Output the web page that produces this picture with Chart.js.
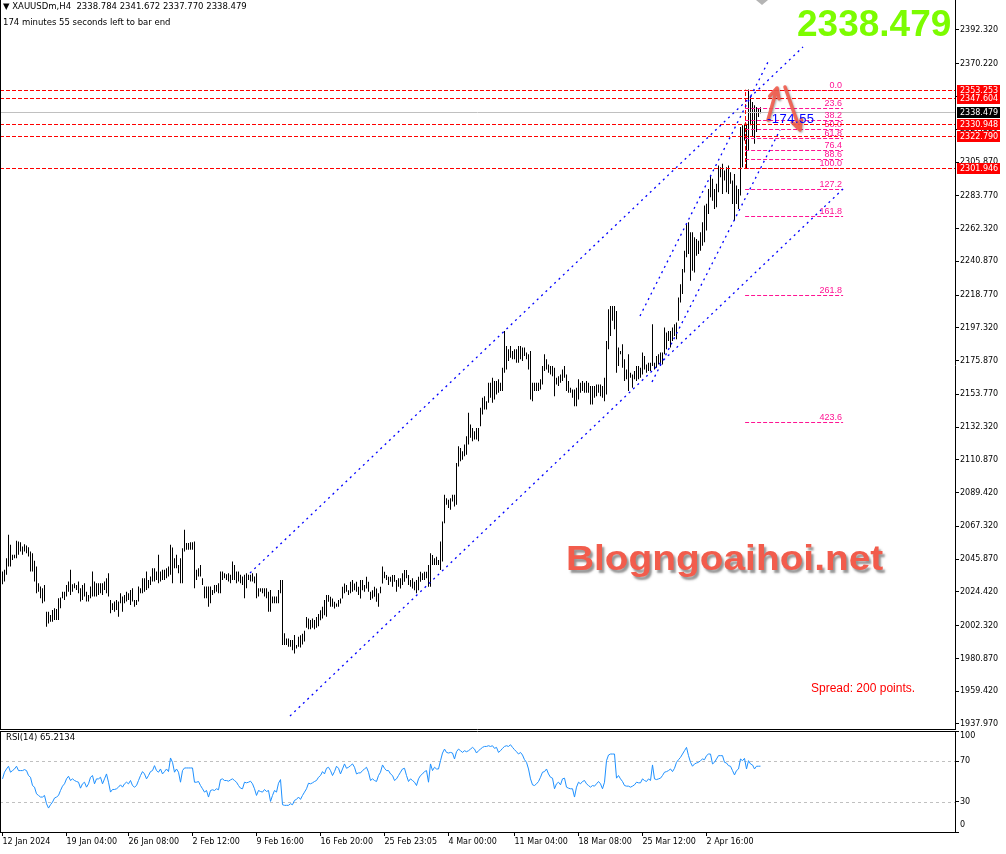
<!DOCTYPE html>
<html><head><meta charset="utf-8">
<script src="https://cdn.jsdelivr.net/npm/chart.js@4.4.1/dist/chart.umd.min.js"></script>
<style>
html,body{margin:0;padding:0;background:#fff;width:1006px;height:854px;overflow:hidden;}
#wrap{position:relative;width:1006px;height:854px;background:#fff;}
canvas{position:absolute;left:0;}
#main{top:0;}
#rsi{top:730px;}
.t{position:absolute;white-space:pre;font-family:"DejaVu Sans",sans-serif;color:#000;}
</style>
</head><body>
<div id="wrap">
<canvas id="main" width="1006" height="730"></canvas>
<canvas id="rsi" width="1006" height="124"></canvas>
<div class="t" style="left:3px;top:1px;font-size:8.5px;line-height:10px;">▼ XAUUSDm,H4  2338.784 2341.672 2337.770 2338.479</div>
<div class="t" style="left:3px;top:17px;font-size:8.5px;line-height:10px;">174 minutes 55 seconds left to bar end</div>
<div class="t" style="left:797px;top:5px;font-family:'Liberation Sans',Arial,sans-serif;font-weight:bold;font-size:37px;line-height:37px;color:#7cfc00;">2338.479</div>
<div class="t" style="left:566px;top:540px;font-family:'Liberation Sans',Arial,sans-serif;font-weight:bold;font-size:35px;line-height:35px;color:#f25c4c;transform:scaleX(1.11);transform-origin:0 0;text-shadow:2px 3px 2px rgba(90,90,90,0.65);">Blogngoaihoi.net</div>
<div class="t" style="left:811px;top:682px;font-family:'Liberation Sans',Arial,sans-serif;font-size:12px;line-height:12px;color:#ff0000;">Spread: 200 points.</div>
<div class="t" style="left:767px;top:112px;font-family:'Liberation Sans',Arial,sans-serif;font-size:13px;line-height:13px;letter-spacing:0.5px;color:#0000ff;">-174.55</div>
<div class="t" style="left:6px;top:732px;font-size:8.5px;line-height:10px;">RSI(14) 65.2134</div>
<div style="position:absolute;left:756px;top:0;width:0;height:0;border-left:6px solid transparent;border-right:6px solid transparent;border-top:5px solid #b4b4b4;"></div>
</div>
<script>
// ---------------- DATA ----------------
const highs = [
2037.8,2038.9,2046.5,2061.8,2055.3,2048.7,2048.7,2057.9,2057.5,2057.0,
2054.2,2055.7,2054.8,2053.7,2050.9,2049.8,2044.8,2041.0,2030.1,2027.9,
2026.8,2029.0,2011.5,2011.5,2009.3,2012.6,2013.7,2013.2,2020.3,2020.7,
2024.6,2024.6,2029.0,2031.2,2038.9,2029.4,2030.1,2029.0,2031.2,2026.8,
2029.0,2030.1,2024.6,2022.4,2027.9,2037.8,2031.2,2030.1,2030.1,2030.1,
2030.1,2031.2,2033.4,2036.7,2019.2,2017.0,2018.1,2019.2,2018.1,2023.5,
2021.4,2022.4,2024.6,2023.5,2025.7,2026.8,2019.2,2019.2,2027.9,2026.8,
2033.4,2033.4,2037.8,2032.3,2034.5,2039.9,2039.9,2037.8,2048.7,2037.8,
2038.9,2038.9,2039.9,2041.0,2055.3,2053.5,2046.5,2048.7,2042.1,2046.5,
2053.1,2065.1,2056.4,2056.4,2057.0,2057.0,2057.5,2038.9,2039.9,2042.1,
2033.4,2027.9,2027.9,2027.9,2027.9,2025.7,2029.0,2029.0,2030.1,2037.8,
2037.8,2036.7,2036.0,2036.7,2035.6,2044.3,2042.1,2037.8,2037.8,2035.6,
2034.5,2035.6,2036.7,2035.6,2035.6,2036.7,2034.5,2036.7,2026.8,2026.8,
2026.8,2026.8,2026.8,2024.6,2025.7,2021.4,2021.4,2021.4,2025.7,2032.3,
2032.3,1997.3,1994.0,1994.0,1992.9,1992.9,1996.2,1989.6,1995.1,1996.0,
1997.0,1999.0,2008.0,2007.0,2006.0,2007.0,2006.0,2008.0,2010.0,2012.5,
2014.7,2019.1,2022.4,2022.4,2021.3,2020.2,2018.0,2016.9,2019.1,2020.2,
2027.8,2030.0,2028.9,2025.6,2031.1,2032.2,2030.0,2031.1,2027.8,2032.2,
2032.2,2028.9,2034.4,2031.1,2024.6,2025.6,2027.8,2026.7,2023.5,2027.8,
2041.0,2037.7,2035.5,2034.4,2034.4,2035.5,2035.5,2032.2,2033.3,2033.3,
2036.6,2038.8,2038.8,2035.5,2032.2,2033.3,2031.1,2032.2,2034.4,2037.7,
2036.6,2037.7,2037.7,2042.1,2049.7,2048.6,2046.4,2047.5,2045.4,2057.4,
2070.5,2088.0,2085.8,2084.8,2085.8,2088.0,2088.0,2108.8,2119.8,2118.7,
2116.5,2120.9,2126.3,2141.7,2134.0,2131.8,2129.6,2131.8,2131.8,2145.0,
2151.5,2152.6,2149.3,2161.4,2161.4,2164.7,2162.5,2162.5,2163.6,2161.4,
2171.2,2195.3,2185.4,2183.3,2185.4,2182.2,2183.3,2183.3,2185.4,2185.4,
2184.4,2184.4,2181.1,2180.0,2182.2,2161.4,2161.4,2161.4,2161.4,2163.6,
2172.3,2180.0,2176.7,2173.4,2172.3,2172.3,2171.2,2164.7,2165.7,2166.8,
2170.1,2172.3,2166.8,2162.5,2158.1,2157.0,2157.0,2158.1,2163.6,2161.4,
2162.5,2161.4,2162.5,2161.4,2159.2,2159.2,2159.2,2160.3,2160.3,2160.3,
2159.2,2164.7,2188.7,2209.5,2211.7,2211.7,2211.7,2208.4,2184.4,2182.2,
2186.5,2176.7,2170.1,2180.0,2167.9,2166.8,2169.0,2172.3,2172.3,2171.2,
2181.1,2178.9,2173.4,2174.5,2174.5,2199.7,2174.5,2178.9,2180.0,2181.1,
2181.1,2197.5,2194.2,2195.3,2195.3,2197.5,2199.7,2200.8,2217.2,2225.9,
2235.8,2247.8,2265.4,2266.5,2259.9,2259.9,2256.6,2255.5,2254.4,2259.9,
2266.5,2277.4,2278.5,2288.3,2297.0,2294.9,2288.3,2291.6,2303.6,2302.5,
2304.7,2300.3,2302.5,2303.6,2299.2,2293.8,2298.1,2290.5,2288.3,2328.8,
2329.9,2331.0,2331.0,2353.3,2348.5,2345.2,2343.0,2341.9,2340.8,2341.7
];
const lows = [
2029.4,2031.2,2035.6,2041.0,2041.0,2045.4,2046.5,2046.5,2048.7,2050.9,
2048.7,2050.9,2049.8,2047.6,2037.8,2037.8,2031.2,2023.5,2024.6,2020.3,
2017.0,2018.1,2001.6,2003.8,2004.9,2004.9,2006.0,2006.0,2006.0,2013.7,
2020.3,2019.2,2021.4,2024.6,2022.4,2024.6,2026.8,2025.7,2023.5,2018.1,
2019.2,2021.4,2018.1,2018.1,2020.3,2021.4,2021.4,2021.4,2022.4,2023.5,
2022.4,2025.7,2023.5,2021.4,2010.4,2012.6,2011.5,2012.6,2008.2,2017.0,
2011.5,2017.0,2018.1,2019.2,2015.9,2018.1,2014.8,2015.9,2018.1,2023.5,
2023.5,2024.6,2025.7,2026.8,2029.0,2031.2,2031.2,2032.3,2030.1,2031.2,
2032.3,2032.3,2033.4,2034.5,2035.6,2030.1,2039.9,2039.9,2036.7,2030.1,
2030.1,2050.9,2052.0,2052.0,2052.0,2052.0,2026.8,2032.3,2034.5,2034.5,
2029.0,2020.3,2020.3,2014.8,2017.0,2022.4,2023.5,2024.6,2023.5,2023.5,
2032.3,2033.4,2032.3,2031.2,2030.1,2032.3,2032.3,2030.1,2031.2,2030.1,
2029.0,2020.3,2026.8,2032.3,2031.2,2031.2,2030.1,2020.3,2021.4,2024.6,
2023.5,2021.4,2020.3,2011.5,2011.5,2017.0,2017.0,2017.0,2017.0,2023.5,
1989.6,1989.6,1989.6,1988.5,1988.5,1986.3,1984.1,1987.4,1988.5,1988.0,
1990.0,1992.0,2001.0,2000.0,2000.0,2001.0,2000.0,2001.0,2002.0,2005.9,
2007.0,2009.2,2008.1,2018.0,2014.7,2014.7,2013.6,2014.7,2014.7,2016.9,
2020.2,2023.5,2024.6,2022.4,2023.5,2024.6,2025.6,2024.6,2022.4,2020.2,
2025.6,2024.6,2026.7,2024.6,2019.1,2020.2,2021.3,2018.0,2014.7,2023.5,
2030.0,2033.3,2032.2,2028.9,2031.1,2027.8,2031.1,2024.6,2027.8,2026.7,
2028.9,2031.1,2033.3,2028.9,2027.8,2026.7,2025.6,2023.5,2025.6,2031.1,
2032.2,2032.2,2033.3,2027.8,2027.8,2042.1,2042.1,2042.1,2042.1,2038.8,
2044.3,2069.4,2081.5,2079.3,2078.2,2083.7,2080.4,2081.5,2106.6,2109.9,
2111.0,2113.2,2114.3,2120.9,2125.3,2123.1,2124.2,2124.2,2123.1,2132.9,
2140.6,2143.9,2143.9,2148.2,2151.5,2148.2,2150.4,2153.7,2154.8,2155.9,
2155.9,2167.9,2170.1,2175.6,2177.8,2176.7,2176.7,2174.5,2174.5,2176.7,
2175.6,2178.9,2176.7,2170.1,2150.4,2149.3,2155.9,2155.9,2155.9,2157.0,
2160.3,2169.0,2170.1,2167.9,2166.8,2165.7,2152.6,2160.3,2159.2,2161.4,
2162.5,2164.7,2155.9,2154.8,2154.8,2151.5,2146.0,2146.0,2150.4,2154.8,
2155.9,2154.8,2154.8,2154.8,2147.1,2147.1,2151.5,2152.6,2154.8,2152.6,
2151.5,2149.3,2153.7,2183.3,2192.0,2201.9,2196.4,2167.9,2172.3,2180.0,
2171.2,2162.5,2163.6,2155.9,2164.7,2158.1,2163.6,2162.5,2163.6,2164.7,
2166.8,2170.1,2167.9,2169.0,2169.0,2172.3,2170.1,2171.2,2173.4,2172.3,
2173.4,2180.0,2183.3,2188.7,2184.4,2188.7,2192.0,2189.8,2201.9,2213.9,
2219.4,2233.6,2243.5,2245.6,2228.1,2234.7,2233.6,2244.6,2245.6,2247.8,
2251.1,2253.3,2261.0,2271.9,2282.8,2280.6,2275.2,2276.3,2286.1,2295.9,
2285.0,2293.8,2286.1,2285.0,2291.6,2278.4,2267.5,2278.4,2275.2,2283.9,
2302.5,2320.0,2301.9,2313.5,2329.9,2322.2,2317.8,2325.5,2335.4,2337.8
];
const rsiValues = [
52.6,59.2,62.4,65.1,59.2,60.8,62.4,65.1,60.8,60.8,
60.8,61.8,60.8,55.9,54.2,46.0,44.4,37.8,36.2,34.6,
34.6,36.2,28.0,23.7,27.0,29.6,33.6,34.6,36.2,41.1,
45.4,47.7,52.6,55.2,51.0,52.6,51.0,50.0,49.3,43.4,
47.7,49.3,44.4,47.7,54.2,55.9,47.7,52.6,52.6,54.2,
47.7,52.6,57.5,49.3,39.5,42.1,42.1,42.8,44.4,46.7,
44.4,47.7,49.3,47.7,51.0,46.0,44.4,46.0,51.0,55.9,
59.8,57.5,52.6,55.9,59.8,60.8,65.7,60.8,59.2,62.4,
57.5,59.8,62.4,59.8,73.3,69.0,59.2,62.4,59.2,49.3,
60.8,63.4,63.4,63.4,63.4,63.4,49.3,49.3,50.0,46.0,
42.8,39.5,41.1,34.6,41.1,41.8,41.1,42.8,41.8,51.9,
52.6,51.0,51.0,50.3,51.6,52.6,51.0,49.3,46.0,43.4,
42.8,49.3,48.7,49.3,50.3,47.7,42.8,36.2,41.1,40.1,
39.5,42.1,40.1,41.1,30.3,36.2,41.1,39.5,48.3,51.9,
27.0,26.4,26.4,26.4,28.0,27.0,31.3,32.3,34.6,32.3,
36.2,39.5,42.8,48.3,47.7,48.7,50.0,51.0,54.2,55.9,
59.8,57.5,63.1,64.1,60.8,55.9,59.8,65.1,63.1,57.5,
62.4,67.4,63.1,64.1,65.7,67.4,64.1,57.5,58.5,58.5,
60.8,62.4,64.1,59.2,51.0,52.6,51.0,50.0,55.9,59.2,
66.4,63.1,60.8,60.8,57.5,55.9,51.0,52.6,55.9,59.2,
62.4,63.1,55.9,50.0,52.6,51.0,49.3,46.0,52.6,55.9,
57.5,59.8,60.8,49.3,67.4,60.8,64.1,62.4,62.4,70.6,
78.2,82.1,78.8,78.2,78.8,78.2,72.3,79.5,82.1,80.5,
78.8,80.5,79.5,80.5,82.1,83.8,82.1,78.2,80.5,82.1,
83.8,84.7,84.7,85.4,84.7,85.4,82.8,83.8,78.8,80.5,
82.8,84.7,85.4,84.7,86.4,83.8,81.5,79.5,77.2,78.8,
76.2,71.6,69.0,62.4,52.6,46.7,46.0,47.7,50.0,54.2,
59.2,59.8,62.4,57.5,54.2,53.3,42.8,47.7,49.3,46.7,
52.6,53.3,44.4,43.4,42.8,42.8,34.6,44.4,49.3,47.7,
50.0,51.0,47.7,46.0,44.4,46.0,45.4,47.7,50.0,47.7,
42.8,49.3,70.6,76.2,77.2,77.2,77.2,53.3,55.9,52.6,
50.0,46.0,45.4,45.4,44.4,45.4,46.7,49.3,48.7,48.7,
52.6,51.0,50.0,52.6,51.0,66.4,52.6,51.9,52.6,53.3,
55.9,59.2,59.8,60.8,62.4,59.8,63.1,69.0,71.6,73.9,
77.2,80.5,83.8,75.6,69.0,65.1,67.4,68.3,69.0,70.6,
72.3,71.6,75.6,77.2,77.2,67.4,69.0,72.3,75.6,75.6,
75.6,69.0,68.3,65.7,65.1,60.8,56.5,60.8,62.4,72.3,
70.6,72.9,62.4,70.6,67.4,66.4,62.4,65.1,65.1,65.2
];
const priceTicks = [2392.32,2370.22,2348.77,2327.32,2305.87,2283.77,2262.32,2240.87,2218.77,2197.32,2175.87,2153.77,2132.32,2110.87,2089.42,2067.32,2045.87,2024.42,2002.32,1980.87,1959.42,1937.97];
const xTickBars = [0,32,63,95,127,159,191,223,256,288,320,352];
const xTickLabels = ['12 Jan 2024','19 Jan 04:00','26 Jan 08:00','2 Feb 12:00','9 Feb 16:00','16 Feb 20:00','25 Feb 23:05','4 Mar 00:00','11 Mar 04:00','18 Mar 08:00','25 Mar 12:00','2 Apr 16:00'];
const rsiTicks = [0,30,70,100];
const rsiLevels = [70,30];
const redLevels = [2353.253,2347.604,2330.948,2322.790,2301.946];
const bidPrice = 2338.479;
const fibHigh = 2353.253, fibLow = 2301.946;
const fibLevels = [0,23.6,38.2,50,61.8,76.4,88.6,100,127.2,161.8,261.8,423.6];
const fibLowBar = 372, fibHighBar = 373, fibStartBar = 371.3, fibEndBar = 420.3;
// trend lines: [bar0, price0, bar1, price1]
const trendLines = [
  [123.75,2036.8,400.25,2381.2],
  [143.75,1943.2,420.25,2288.2],
  [318.75,2205.1,382.75,2371.4],
  [324.75,2161.9,388.75,2326.9]
];
const arrowMarks = [
  [382.75,2333.4,387.25,2354.4],
  [391.25,2355.0,398.75,2326.9]
];
const X_MIN = -1.25, X_MAX = 476.25;
const Y_MAX = 2411.96, Y_MIN = 1934.03;

// ---------------- PLUGINS ----------------
function hline(ctx, x0, x1, y){ ctx.beginPath(); ctx.moveTo(x0,y); ctx.lineTo(x1,y); ctx.stroke(); }

function drawArrow(ctx, x0, y0, x1, y1){
  const ang = Math.atan2(y1-y0, x1-x0), L = 11, w = 0.45;
  ctx.beginPath();
  ctx.moveTo(x0,y0); ctx.lineTo(x1,y1);
  ctx.moveTo(x1 - L*Math.cos(ang-w), y1 - L*Math.sin(ang-w));
  ctx.lineTo(x1,y1);
  ctx.lineTo(x1 - L*Math.cos(ang+w), y1 - L*Math.sin(ang+w));
  ctx.stroke();
}

const mainOverlay = {
  id:'mainOverlay',
  afterDatasetsDraw(chart){
    const {ctx, chartArea:a, scales:{x,y}} = chart;
    ctx.save();
    ctx.beginPath(); ctx.rect(a.left,a.top,a.right-a.left,a.bottom-a.top); ctx.clip();
    ctx.lineWidth = 1;
    // bid line
    ctx.setLineDash([]); ctx.strokeStyle = '#c0c0c0';
    hline(ctx, a.left, a.right, Math.round(y.getPixelForValue(bidPrice))+0.5);
    // fibonacci
    const fx0 = x.getPixelForValue(fibStartBar), fx1 = x.getPixelForValue(fibEndBar);
    ctx.strokeStyle = '#ff1493'; ctx.setLineDash([4,2]);
    ctx.fillStyle = '#ff1493'; ctx.font = '9px "Liberation Sans"'; ctx.textAlign='right'; ctx.textBaseline='alphabetic';
    fibLevels.forEach(l=>{
      const p = fibHigh - l/100*(fibHigh-fibLow);
      const py = Math.round(y.getPixelForValue(p))+0.5;
      hline(ctx, fx0, fx1, py);
      ctx.fillText(l.toFixed(1), fx1-1, py-2.5);
    });
    // red levels
    ctx.strokeStyle = '#ff0000'; ctx.setLineDash([4,2]);
    redLevels.forEach(p=> hline(ctx, a.left, a.right, Math.round(y.getPixelForValue(p))+0.5));
    // fib trend line
    ctx.beginPath();
    ctx.moveTo(Math.round(x.getPixelForValue(fibLowBar))-1.5, y.getPixelForValue(fibLow));
    ctx.lineTo(Math.round(x.getPixelForValue(fibLowBar))-1.5, y.getPixelForValue(fibHigh));
    ctx.stroke();
    // blue dotted trend lines
    ctx.strokeStyle = '#0000ff'; ctx.lineWidth = 1.3; ctx.setLineDash([2,4]);
    trendLines.forEach(([b0,p0,b1,p1])=>{
      ctx.beginPath();
      ctx.moveTo(x.getPixelForValue(b0), y.getPixelForValue(p0));
      ctx.lineTo(x.getPixelForValue(b1), y.getPixelForValue(p1));
      ctx.stroke();
    });
    // arrows
    ctx.setLineDash([]);
    ctx.strokeStyle = 'rgba(242,92,76,0.9)'; ctx.lineWidth = 3.5; ctx.lineCap='round'; ctx.lineJoin='round';
    ctx.shadowColor = 'rgba(0,0,0,0.35)'; ctx.shadowBlur = 2; ctx.shadowOffsetX = 1; ctx.shadowOffsetY = 1;
    arrowMarks.forEach(([b0,p0,b1,p1])=> drawArrow(ctx, x.getPixelForValue(b0), y.getPixelForValue(p0), x.getPixelForValue(b1), y.getPixelForValue(p1)));
    ctx.restore();
  },
  afterDraw(chart){
    const {ctx, chartArea:a, scales:{y}} = chart;
    ctx.save();
    ctx.strokeStyle = '#000'; ctx.lineWidth = 1; ctx.setLineDash([]);
    ctx.beginPath(); ctx.moveTo(0.5, a.top); ctx.lineTo(0.5, a.bottom); ctx.stroke();
    hline(ctx, a.left, a.right, a.bottom-0.5);
    ctx.font = '8px "DejaVu Sans"'; ctx.textAlign='left'; ctx.textBaseline='middle';
    const bx = a.right + 2, bw = 43;
    const box = (p, col)=>{
      const py = Math.round(y.getPixelForValue(p));
      ctx.fillStyle = col; ctx.fillRect(bx, py-5, bw, 11);
      ctx.fillStyle = '#fff'; ctx.fillText(p.toFixed(3), a.right+5, py+0.5);
    };
    redLevels.forEach(p=>box(p,'#ff0000'));
    box(bidPrice,'#000');
    ctx.restore();
  }
};

const rsiOverlay = {
  id:'rsiOverlay',
  beforeDatasetsDraw(chart){
    const {ctx, chartArea:a, scales:{y}} = chart;
    ctx.save();
    ctx.strokeStyle = '#c0c0c0'; ctx.lineWidth = 1; ctx.setLineDash([3,3]);
    rsiLevels.forEach(v=> hline(ctx, a.left, a.right, Math.round(y.getPixelForValue(v))+0.5));
    ctx.restore();
  },
  afterDraw(chart){
    const {ctx, chartArea:a, scales:{y}} = chart;
    ctx.save();
    ctx.strokeStyle = '#000'; ctx.lineWidth = 1; ctx.setLineDash([]);
    ctx.beginPath(); ctx.moveTo(0.5, a.top); ctx.lineTo(0.5, a.bottom); ctx.stroke();
    hline(ctx, 0, a.right, a.top+0.5);
    ctx.fillStyle = '#000'; ctx.font = '8px "DejaVu Sans"'; ctx.textAlign='left'; ctx.textBaseline='middle';
    rsiTicks.forEach(v=>{
      let py = y.getPixelForValue(v);
      py = Math.min(Math.max(py, a.top+5), a.bottom-7);
      ctx.fillText(String(v), a.right+5, py);
    });
    ctx.restore();
  }
};

// ---------------- CHARTS ----------------
new Chart(document.getElementById('main'), {
  type:'bar',
  data:{datasets:[{
    data: highs.map((h,i)=>({x:i, y:[lows[i], h]})),
    backgroundColor:'#000', borderWidth:0, barThickness:1, inflateAmount:0, grouped:false
  }]},
  options:{
    responsive:false, animation:false, devicePixelRatio:1,
    layout:{padding:0},
    plugins:{legend:{display:false}, tooltip:{enabled:false}},
    scales:{
      x:{type:'linear', min:X_MIN, max:X_MAX, display:false, offset:false},
      y:{position:'right', min:Y_MIN, max:Y_MAX,
        afterBuildTicks:s=>{ s.ticks = priceTicks.map(v=>({value:v})); },
        afterFit:s=>{ s.width = 51; s.paddingTop = 0; s.paddingBottom = 0; },
        ticks:{font:{family:'DejaVu Sans', size:8}, color:'#000', padding:1, callback:v=>Number(v).toFixed(3)},
        grid:{drawOnChartArea:false, tickLength:4, color:'#000'},
        border:{color:'#000'}
      }
    }
  },
  plugins:[mainOverlay]
});

new Chart(document.getElementById('rsi'), {
  type:'line',
  data:{datasets:[{
    data: rsiValues.map((v,i)=>({x:i, y:v})),
    borderColor:'#1e90ff', borderWidth:1, pointRadius:0, tension:0, fill:false
  }]},
  options:{
    responsive:false, animation:false, devicePixelRatio:1,
    layout:{padding:{top:1, left:0, right:0, bottom:0}},
    plugins:{legend:{display:false}, tooltip:{enabled:false}},
    scales:{
      x:{type:'linear', min:X_MIN, max:X_MAX, offset:false,
        afterBuildTicks:s=>{ s.ticks = xTickBars.map(v=>({value:v})); },
        afterFit:s=>{ s.height = 22; s.paddingLeft = 0; s.paddingRight = 0; },
        ticks:{autoSkip:false, maxRotation:0, minRotation:0, align:'start', padding:1,
          font:{family:'DejaVu Sans', size:8}, color:'#000', callback:(v,i)=>xTickLabels[i]},
        grid:{drawOnChartArea:false, tickLength:4, color:'#000'},
        border:{color:'#000'}
      },
      y:{position:'right', min:0, max:100,
        afterBuildTicks:s=>{ s.ticks = rsiTicks.map(v=>({value:v})); },
        afterFit:s=>{ s.width = 51; s.paddingTop = 0; s.paddingBottom = 0; },
        ticks:{display:false},
        grid:{drawOnChartArea:false, tickLength:4, color:'#000'},
        border:{color:'#000'}
      }
    }
  },
  plugins:[rsiOverlay]
});
</script>
</body></html>
